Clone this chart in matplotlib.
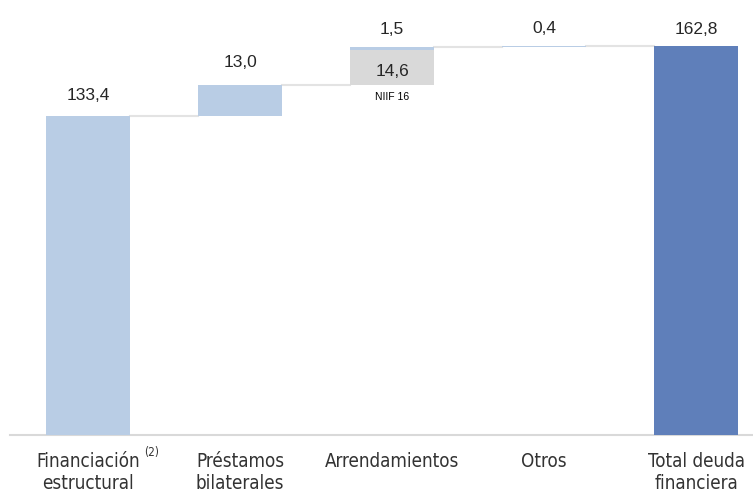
import matplotlib.pyplot as plt

plt.rcParams['font.family'] = ['Liberation Sans', 'DejaVu Sans']

LIGHT = "#B9CDE5"
GREY = "#D9D9D9"
DARK = "#5F7FBA"
LINE = "#E3E3E3"
TXT = "#262626"

categories = ["Financiación\nestructural", "Préstamos\nbilaterales", "Arrendamientos", "Otros", "Total deuda\nfinanciera"]
steps = [133.4, 13.0, 1.5, 0.4]
niif16 = 14.6
total = 162.8
value_labels = ["133,4", "13,0", "1,5", "0,4", "162,8"]

fig = plt.figure(figsize=(7.53, 4.92), dpi=100)
ax = fig.add_axes([0.0, 0.116, 1.0, 0.884])
width = 0.553

# running bottoms for the waterfall
bottoms = []
tops = []
level = 0.0
for i, s in enumerate(steps):
    b = level
    if i == 2:
        ax.bar(i, niif16, bottom=b, width=width, color=GREY, zorder=3)
        b = level + niif16
    ax.bar(i, s, bottom=b, width=width, color=LIGHT, zorder=3)
    bottoms.append(level)
    level = b + s
    tops.append(level)
ax.bar(4, total, width=width, color=DARK, zorder=3)
tops.append(total)

# connectors
for i in range(4):
    ax.plot([i + width / 2, i + 1 - width / 2], [tops[i], tops[i]], color=LINE, lw=1.5, zorder=2)

# value labels
offsets = [15, 16, 12, 12, 12]
for i, lab in enumerate(value_labels):
    ax.annotate(lab, (i, tops[i]), xytext=(0, offsets[i]), textcoords="offset points",
                ha="center", va="center", fontsize=12.5, color=TXT)
ax.text(2, bottoms[2] + niif16 / 2 - 1.5, "14,6", ha="center", va="center", fontsize=12.5, color=TXT, zorder=4)
ax.annotate("NIIF 16", (2, bottoms[2]), xytext=(0, -8.5), textcoords="offset points",
            ha="center", va="center", fontsize=7.5, color="black")

ax.set_xlim(-0.579, 4.375)
ax.set_ylim(0, 182)
ax.set_xticks(range(5))
ax.set_xticklabels(categories, fontsize=13.5, color="#333333", linespacing=1.17,
                   family='DejaVu Sans', fontstretch='condensed')
ax.tick_params(axis="x", length=0, pad=12.5)
ax.set_yticks([])
for side in ["top", "right", "left"]:
    ax.spines[side].set_visible(False)
ax.spines["bottom"].set_color(GREY)
ax.spines["bottom"].set_linewidth(1.5)
ax.spines["bottom"].set_bounds(-0.513, 4.375)

ax.annotate("(2)", (0, 0), xytext=(45.5, -12.5), textcoords="offset points",
            ha="center", va="center", fontsize=8.5, color="#333333",
            family='DejaVu Sans', fontstretch='condensed')

plt.savefig("out.png", dpi=100)
